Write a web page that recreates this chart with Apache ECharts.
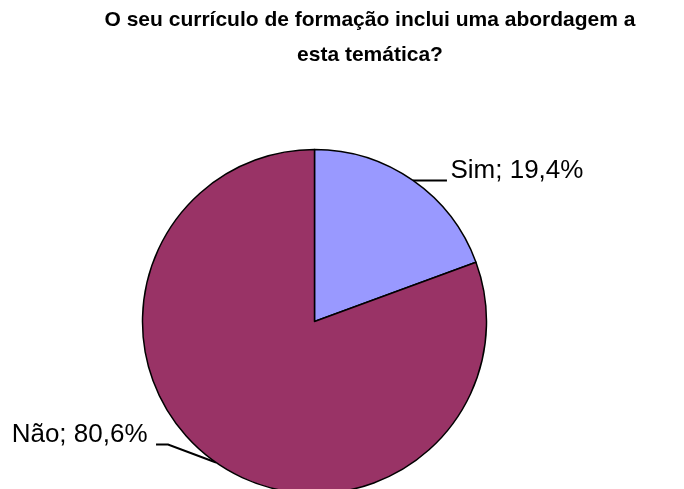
<!DOCTYPE html>
<html>
<head>
<meta charset="utf-8">
<style>
  html, body { margin: 0; padding: 0; background: #fff; }
  #chart { width: 684px; height: 489px; }
</style>
<script src="https://cdn.jsdelivr.net/npm/echarts@6/dist/echarts.min.js"></script>
</head>
<body>
<div id="chart"></div>
<script>
const categories = ['Sim', 'Não'];
const values = [19.4, 80.6];
const colors = ['#9999FF', '#993366'];
const titleText = 'O seu currículo de formação inclui uma abordagem a\nesta temática?';

const CX = 314.5, CY = 321.5, R = 172;
const total = values.reduce((a, b) => a + b, 0);

function edgePoint(idx) {
  let cum = 0;
  for (let i = 0; i < idx; i++) cum += values[i];
  const frac = (cum + values[idx] / 2) / total;
  const ang = (90 - 360 * frac) * Math.PI / 180;
  return [CX + R * Math.cos(ang), CY - R * Math.sin(ang)];
}

const chart = echarts.init(document.getElementById('chart'), null, { renderer: 'canvas' });
chart.setOption({
  animation: false,
  backgroundColor: '#ffffff',
  title: {
    text: titleText,
    left: 370,
    top: 3,
    padding: 0,
    textAlign: 'center',
    textStyle: {
      fontFamily: 'Liberation Sans, Arial, sans-serif',
      fontWeight: 'bold',
      fontSize: 21,
      lineHeight: 35,
      color: '#000'
    }
  },
  series: [{
    type: 'pie',
    center: [CX, CY],
    radius: R,
    startAngle: 90,
    clockwise: true,
    avoidLabelOverlap: false,
    itemStyle: { borderColor: '#000', borderWidth: 1.5 },
    label: {
      show: true,
      position: 'outside',
      fontFamily: 'Liberation Sans, Arial, sans-serif',
      fontSize: 26,
      color: '#000',
      formatter: p => p.name + '; ' + p.value.toFixed(1).replace('.', ',') + '%'
    },
    labelLine: {
      show: true,
      lineStyle: { color: '#000', width: 2 }
    },
    labelLayout: function (params) {
      const s = edgePoint(params.dataIndex);
      if (params.dataIndex === 0) {
        return {
          x: s[0] + 37.5, y: s[1] - 10, align: 'left', verticalAlign: 'middle',
          labelLinePoints: [s, [s[0] + 34, s[1]], [s[0] + 34, s[1]]]
        };
      }
      return {
        x: s[0] - 68.5, y: s[1] - 28, align: 'right', verticalAlign: 'middle',
        labelLinePoints: [s, [s[0] - 48, s[1] - 18], [s[0] - 60, s[1] - 18]]
      };
    },
    emphasis: { disabled: true },
    data: categories.map((c, i) => ({ name: c, value: values[i], itemStyle: { color: colors[i] } }))
  }]
});
</script>
</body>
</html>
